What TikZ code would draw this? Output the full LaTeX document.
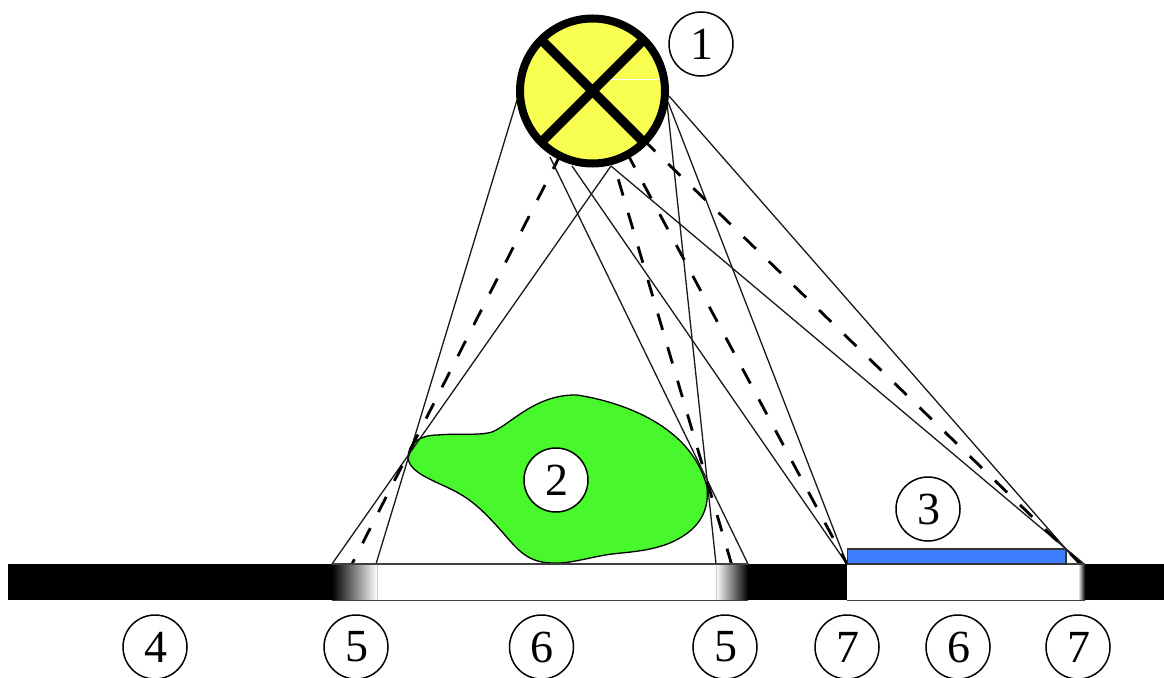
\documentclass[tikz,border=0pt]{standalone}
\usepackage{fontspec}
\setmainfont{Liberation Serif}
\definecolor{blobgreen}{RGB}{72,248,44}
\definecolor{shieldblue}{RGB}{63,127,255}
\definecolor{lampyellow}{RGB}{248,255,80}
\newcommand{\numtext}[1]{\raisebox{-2pt}{\hspace{1pt}#1}}
\tikzset{
  ray/.style={draw=black!90,line width=1.3pt},
  rayd/.style={draw=black,line width=2.8pt,dash pattern=on 17pt off 18pt},
  num/.style={circle,draw=black,fill=white,line width=1.5pt,minimum size=64pt,inner sep=0pt,font=\fontsize{46}{46}\selectfont},
  barline/.style={draw=black!75,line width=1.2pt},
}
\begin{document}
\begin{tikzpicture}[x=1pt,y=-1pt]
\useasboundingbox (0,0) rectangle (1164,677);
\clip (0,0) rectangle (1164,677);
\fill[white] (0,0) rectangle (1164,677);
\coordinate (L) at (592.5,91);
% object
\draw[line width=1.3pt,draw=black,fill=blobgreen]
  (408,458) .. controls (408,443) and (420,435) .. (438,435)
  .. controls (458,433) and (478,436) .. (492,432)
  .. controls (510,425) and (535,394) .. (577,395)
  .. controls (610,400) and (690,420) .. (707,487)
  .. controls (710,515) and (695,532) .. (670,543)
  .. controls (650,551) and (630,552) .. (612,554)
  .. controls (590,557) and (570,564) .. (553,563)
  .. controls (528,563) and (518,550) .. (504,534)
  .. controls (490,518) and (476,503) .. (460,494)
  .. controls (440,482) and (410,475) .. (408,458) -- cycle;
% rays
\draw[ray] (517,100) -- (376,564);
\draw[ray] (611,166) -- (332,564);
\draw[rayd] (560.9,153.8) -- (352,564);
\draw[ray] (550,157) -- (748,564);
\draw[ray] (667,103) -- (716,564);
\draw[rayd] (608.4,145.7) -- (731.5,564);
\draw[ray] (572,166) -- (847,564);
\draw[ray] (668,102) -- (847,564);
\draw[rayd] (626.7,152.5) -- (847,564);
\draw[ray] (611,166) -- (1084,564);
\draw[ray] (669,96) -- (1079,564);
\draw[rayd] (643.1,139.5) -- (1081,564);
% bar
\fill[black] (8,564) rectangle (332,600);
\shade[left color=black,right color=white] (332,564) rectangle (377,600);
\shade[left color=white,right color=black] (716,564) rectangle (748,600);
\fill[black] (748,564) rectangle (847,600);
\shade[left color=white,right color=black] (1078,564) rectangle (1085,600);
\fill[black] (1085,564) rectangle (1164,600);
\draw[black!20,line width=1pt] (377,564) -- (377,600) (716,564) -- (716,600);
\draw[barline] (332,564) -- (748,564) (332,600.5) -- (748,600.5) (847,564) -- (1085,564) (847,600.5) -- (1085,600.5);
% shield
\draw[fill=shieldblue,draw=black!80,line width=1.3pt] (847.5,549) rectangle (1066,564);
% lamp
\draw[fill=lampyellow,draw=black,line width=8pt] (L) circle (72.5);
\draw[white,line width=0.7pt] (610,79) -- (659,79);
\draw[black,line width=9.5pt] (541,39.5) -- (644,142.5) (644,39.5) -- (541,142.5);
% labels
\node[num] (n1) at (701,44) {\numtext{1}};
\node[num] (n2) at (556,480) {\numtext{2}};
\node[num] (n3) at (928,509) {\numtext{3}};
\node[num] (n4) at (155,647) {\numtext{4}};
\node[num] (n5) at (356,647) {\numtext{5}};
\node[num] (n6) at (541.5,647) {\numtext{6}};
\node[num] (n5b) at (725,647) {\numtext{5}};
\node[num] (n7) at (847,647) {\numtext{7}};
\node[num] (n6b) at (958,647) {\numtext{6}};
\node[num] (n7b) at (1078,647) {\numtext{7}};
\end{tikzpicture}
\end{document}
